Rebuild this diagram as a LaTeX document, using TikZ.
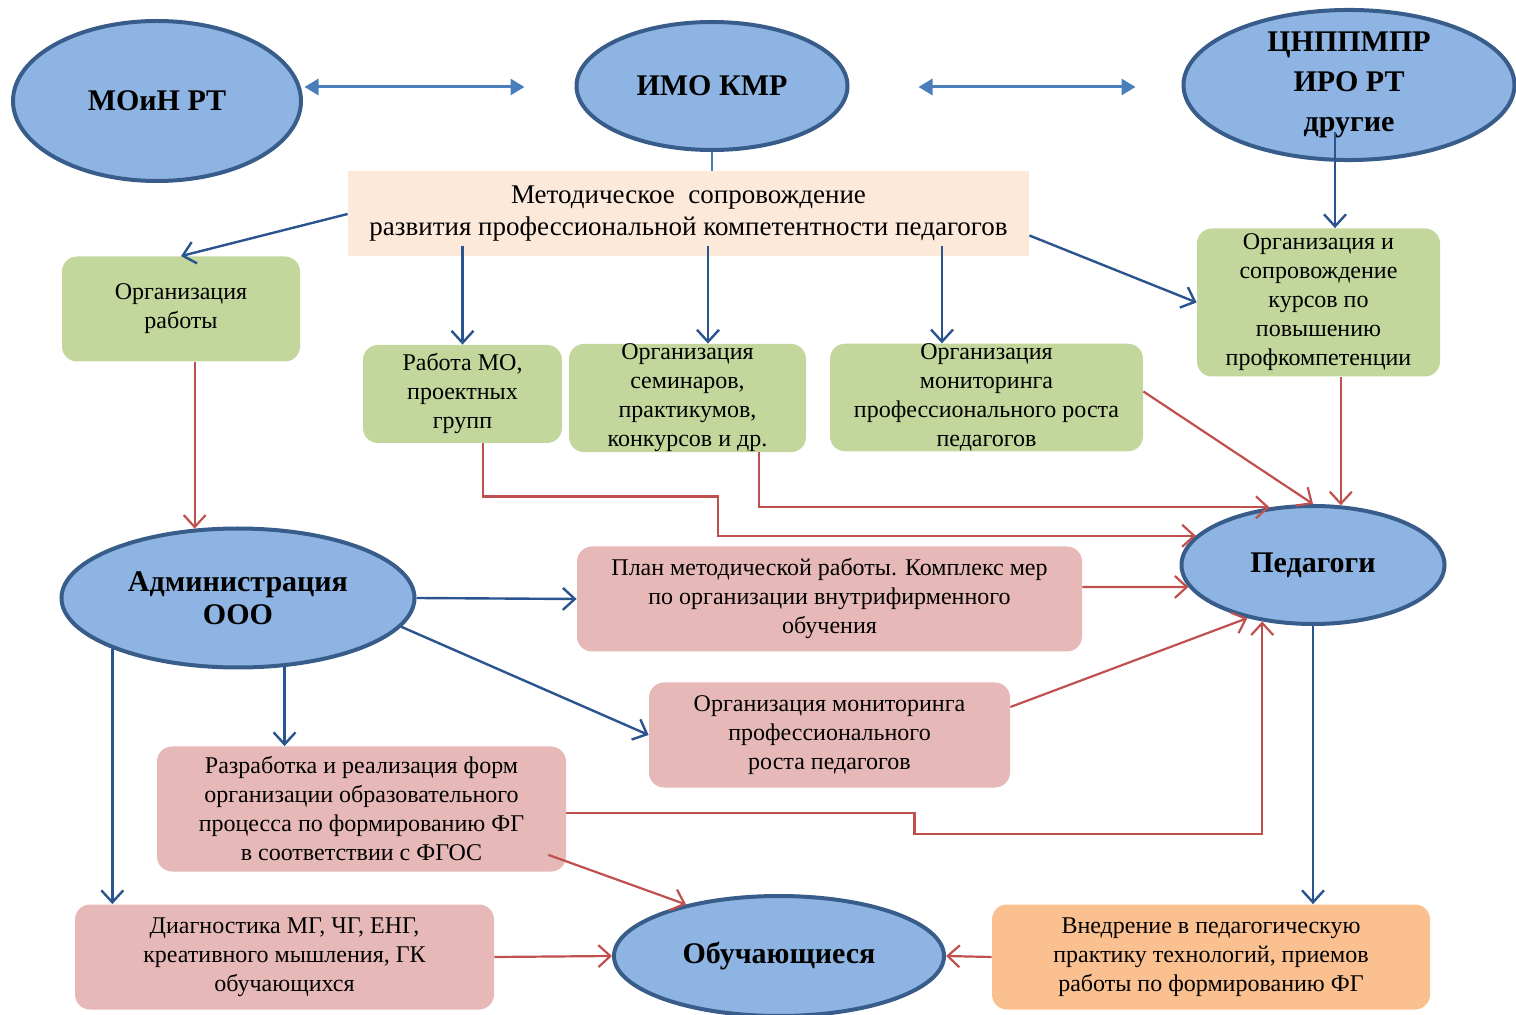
\documentclass[tikz,border=0pt]{standalone}
\usepackage{fontspec}
\setmainfont{Liberation Serif}
\usetikzlibrary{arrows.meta}
\usetikzlibrary{calc}
\usetikzlibrary{positioning}
\usetikzlibrary{shapes.geometric}
\definecolor{ellfill}{HTML}{8EB4E3}
\definecolor{elldraw}{HTML}{385D8A}
\definecolor{mutualblue}{HTML}{4A7EBB}
\definecolor{linkblue}{HTML}{2A5490}
\definecolor{feedred}{HTML}{C0504D}
\definecolor{taskfill}{HTML}{C3D69B}
\definecolor{measurefill}{HTML}{E6B9B8}
\definecolor{practicefill}{HTML}{FAC090}
\definecolor{topicfill}{HTML}{FDE9D9}

\begin{document}
\begin{tikzpicture}[
		x=0.5pt,y=-0.5pt,
		organ/.style={ellipse,draw=elldraw,fill=ellfill,line width=2pt,inner sep=0pt,align=center,font=\fontsize{15}{18}\selectfont\bfseries},
		topic/.style={rectangle,fill=topicfill,inner sep=0pt,align=center,font=\fontsize{13.5}{16}\selectfont},
		task/.style={rectangle,rounded corners=7.5pt,fill=taskfill,inner sep=0pt,align=center,font=\fontsize{12}{14.5}\selectfont},
		measure/.style={task,fill=measurefill},
		practice/.style={task,fill=practicefill},
		link/.style={-{Straight Barb[length=6pt,width=11pt]},draw=linkblue,line width=1.2pt},
		feed/.style={-{Straight Barb[length=6pt,width=11pt]},draw=feedred,line width=1.1pt},
		mutual/.style={{Triangle[length=7pt,width=8pt]}-{Triangle[length=7pt,width=8pt]},draw=mutualblue,line width=1.5pt}
	]
		\useasboundingbox (0,0) rectangle (1516,1015);

		\node [organ,minimum width=144pt,minimum height=80pt] (moin) at (157,101) {МОиН РТ};
		\node [organ,minimum width=135.5pt,minimum height=64pt] (imo) at (712,86) {ИМО КМР};
		\node [organ,minimum width=165.5pt,minimum height=75pt,font=\fontsize{15}{20}\selectfont\bfseries] (cn) at (1349,85) {ЦНППМПР\\ИРО РТ\\другие};

		\node [topic,minimum width=340.5pt,minimum height=42.5pt] (head) at (688.5,214) {Методическое\ \ сопровождение\\развития профессиональной компетентности педагогов};

		\node [task,minimum width=119pt,minimum height=52.5pt] (orgw) at (181,309) {Организация\\работы};
		\node [task,minimum width=99.5pt,minimum height=49pt] (rabmo) at (462.5,394) {Работа МО,\\проектных\\групп};
		\node [task,minimum width=118.5pt,minimum height=53.5pt] (sem) at (687.5,398) {Организация\\семинаров,\\практикумов,\\конкурсов и др.};
		\node [task,minimum width=156.5pt,minimum height=53pt] (monG) at (986.5,397.5) {Организация\\мониторинга\\профессионального роста\\педагогов};
		\node [task,minimum width=121.5pt,minimum height=74pt] (kurs) at (1318.5,302.5) {Организация и\\сопровождение\\курсов по\\повышению\\профкомпетенции};

		\node [organ,minimum width=176.5pt,minimum height=69.5pt,font=\fontsize{15}{16.5}\selectfont\bfseries] (adm) at (238,598) {Администрация\\ООО};
		\node [organ,minimum width=131.5pt,minimum height=59pt] (ped) at (1313,565) {Педагоги};
		\node [organ,minimum width=165pt,minimum height=60pt] (obu) at (779,956) {Обучающиеся};

		\node [measure,minimum width=252.5pt,minimum height=52.5pt] (plan) at (829.5,599) {План методической работы. Комплекс мер\\по организации внутрифирменного\\обучения};
		\node [measure,minimum width=180.5pt,minimum height=52.5pt] (monP) at (829.5,735) {Организация мониторинга\\профессионального\\роста педагогов};
		\node [measure,minimum width=204.5pt,minimum height=62.5pt] (razr) at (361.5,809) {Разработка и реализация форм\\организации образовательного\\процесса по формированию ФГ\\в соответствии с ФГОС};
		\node [measure,minimum width=209.5pt,minimum height=52.5pt] (diag) at (284.5,957) {Диагностика МГ, ЧГ, ЕНГ,\\креативного мышления, ГК\\обучающихся};
		\node [practice,minimum width=219pt,minimum height=52.5pt] (vned) at (1211,957) {Внедрение в педагогическую\\практику технологий, приемов\\работы по формированию ФГ};

		\coordinate (semtop) at ($(sem.north)+(20.5,0)$);
		\coordinate (montop) at ($(monG.north)+(-44.5,0)$);
		\coordinate (kurstop) at ($(kurs.north)+(16.5,0)$);

		\draw [mutual] ($(imo.west)+(-270,1)$) -- ($(imo.west)+(-50,1)$);
		\draw [mutual] ($(imo.east)+(69,1)$) -- ($(cn.west)+(-46,2)$);
		\draw [draw=mutualblue,line width=1pt] (imo.south) -- (imo.south |- head.north);

		\draw [link] (head.west) -- (orgw.north);
		\draw [link] (rabmo.north |- head.south) ++(0,-11) -- (rabmo.north);
		\draw [link] (semtop |- head.south) ++(0,-11) -- (semtop);
		\draw [link] (montop |- head.south) ++(0,-11) -- (montop);
		\draw [link] ($(head.east)+(0,21.5)$) -- (kurs.west);
		\draw [link] (kurstop |- cn.south) ++(0,-30) -- (kurstop);

		\draw [feed] (adm.122 |- orgw.south) -- (adm.122);
		\draw [feed] ($(rabmo.south)+(20.5,0)$) |- ($(sem.south)+(30.5,44)$) |- (ped.166);
		\draw [feed] ($(sem.south)+(71.5,0)$) |- (ped.127);
		\draw [feed] ($(monG.east)+(0,-6)$) -- (ped.north);
		\draw [feed] (ped.65 |- kurs.south) -- (ped.65);
		\draw [feed] ($(plan.east)+(0,-12)$) -- (ped.190);
		\draw [feed] ($(monP.east)+(0,-28)$) -- (ped.219);
		\draw [feed] ($(razr.east)+(0,4)$) -- ++(348,0) -- ++(0,21) -| (ped.228);
		\draw [feed] ($(razr.south east)+(-18,-17)$) -- (obu.151);
		\draw [feed] (diag.east) -- (obu.west);
		\draw [feed] (vned.west) -- (obu.east);

		\draw [link] (adm.east) -- (plan.west);
		\draw [link] (adm.-10) -- (monP.west);
		\draw [link] (adm.-56) -- (adm.-56 |- razr.north);
		\draw [link] (adm.202) -- (adm.202 |- diag.north);
		\draw [link] (ped.south) -- (ped.south |- vned.north);
	\end{tikzpicture}
\end{document}
